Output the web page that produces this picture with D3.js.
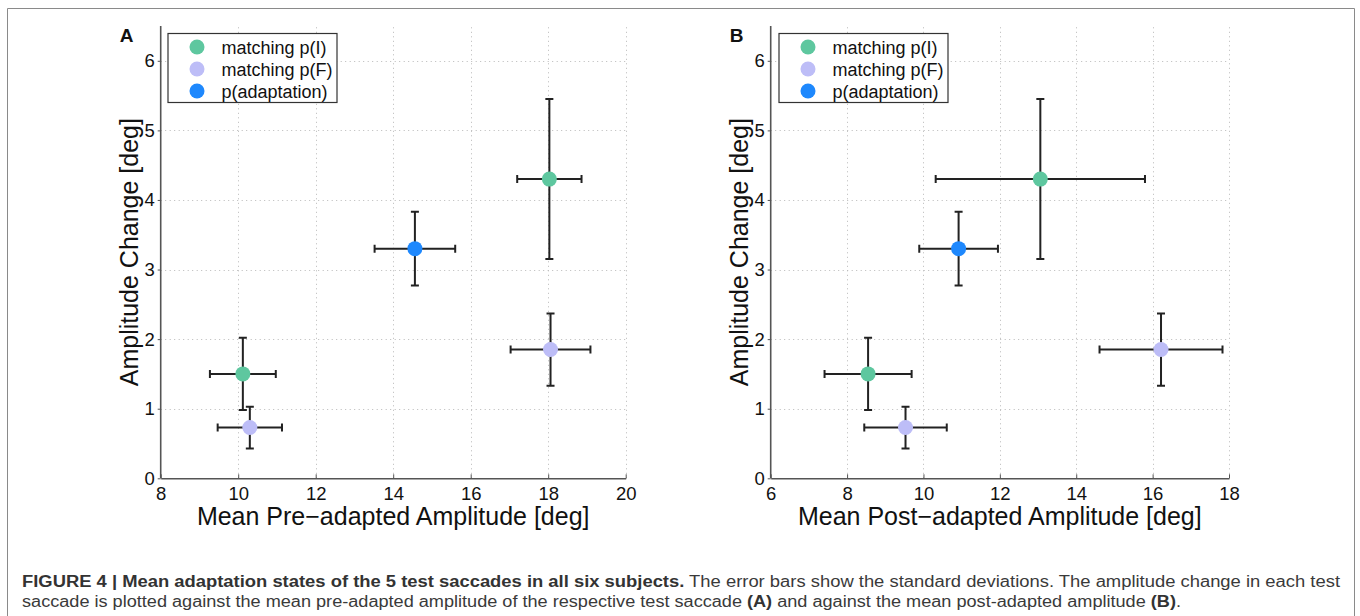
<!DOCTYPE html>
<html>
<head>
<meta charset="utf-8">
<script src="https://cdn.jsdelivr.net/npm/d3@7"></script>
<style>
  html, body { margin: 0; padding: 0; background: #fff; }
  svg { display: block; font-family: "Liberation Sans", Arial, Helvetica, sans-serif; }
</style>
</head>
<body>
<svg id="chart" width="1360" height="616"></svg>
<script>
// ---------------- data ----------------
const seriesNames = ["matching p(I)", "matching p(F)", "p(adaptation)"];
const seriesColors = ["#5ec79f", "#bdbdf7", "#1e88fd"];
// five test saccades
const saccadeGroup = [0, 1, 2, 0, 1];
const ampChange    = [1.50, 0.73, 3.30, 4.30, 1.85];
const ampChangeSD  = [0.52, 0.30, 0.53, 1.15, 0.52];
const preAmp       = [10.12, 10.30, 14.56, 18.03, 18.06];
const preAmpSD     = [0.85, 0.83, 1.04, 0.83, 1.03];
const postAmp      = [8.55, 9.53, 10.92, 13.06, 16.22];
const postAmpSD    = [1.14, 1.08, 1.03, 2.74, 1.61];
const xTicksA = [8, 10, 12, 14, 16, 18, 20];
const xTicksB = [6, 8, 10, 12, 14, 16, 18];
const yTicks  = [0, 1, 2, 3, 4, 5, 6];
const xTitleA = "Mean Pre\u2212adapted Amplitude [deg]";
const xTitleB = "Mean Post\u2212adapted Amplitude [deg]";
const yTitle  = "Amplitude Change [deg]";

// ---------------- drawing ----------------
const svg = d3.select("#chart");

// figure frame (top, left, right)
svg.append("path")
  .attr("d", "M7.5,616 V8.5 H1354.5 V616")
  .attr("fill", "none").attr("stroke", "#8a8a8a").attr("stroke-width", 1);

const y = d3.scaleLinear().domain([0, 6.5]).range([478.3, 26]);

function panel(cfg) {
  const x = d3.scaleLinear().domain(cfg.domain).range(cfg.range);
  const g = svg.append("g");
  const x0 = cfg.range[0], x1 = cfg.range[1];
  const yb = y(0), yt = y(6.5);

  // grid
  const grid = g.append("g").attr("stroke", "#b8b8b8").attr("stroke-width", 1)
    .attr("stroke-dasharray", "1,3.5");
  grid.selectAll("line.v").data(cfg.ticks.slice(1)).join("line")
    .attr("x1", d => Math.round(x(d)) + 0.5).attr("x2", d => Math.round(x(d)) + 0.5)
    .attr("y1", yb).attr("y2", yt);
  grid.selectAll("line.h").data(yTicks.slice(1)).join("line")
    .attr("x1", x0).attr("x2", x1)
    .attr("y1", d => Math.round(y(d)) + 0.5).attr("y2", d => Math.round(y(d)) + 0.5);

  // axes
  const xAxis = d3.axisBottom(x).tickValues(cfg.ticks).tickFormat(d3.format("d"))
    .tickSizeInner(-4).tickSizeOuter(0).tickPadding(9);
  const gx = g.append("g").attr("transform", `translate(0,${yb})`).call(xAxis);
  gx.select(".domain").attr("stroke", "#555").attr("stroke-width", 1.6);
  gx.selectAll(".tick line").attr("stroke", "#555");
  gx.selectAll("text").attr("font-size", 18.5).attr("fill", "#111").attr("font-family", null);

  const yAxis = d3.axisLeft(y).tickValues(yTicks).tickFormat(d3.format("d"))
    .tickSizeInner(3).tickSizeOuter(0).tickPadding(3);
  const gy = g.append("g").attr("transform", `translate(${x0},0)`).call(yAxis);
  gy.select(".domain").attr("stroke", "#555").attr("stroke-width", 1.6)
    .attr("d", `M0,${yb}V${yt}`);
  gy.selectAll(".tick line").attr("stroke", "#555");
  gy.selectAll("text").attr("font-size", 18.5).attr("fill", "#111").attr("font-family", null);

  // error bars
  const idx = d3.range(ampChange.length);
  const eb = g.append("g").attr("stroke", "#222").attr("stroke-width", 2).attr("fill", "none");
  const cap = 4;
  idx.forEach(i => {
    const cx = x(cfg.xs[i]), cy = y(ampChange[i]);
    const xl = x(cfg.xs[i] - cfg.sds[i]), xr = x(cfg.xs[i] + cfg.sds[i]);
    const yu = y(ampChange[i] + ampChangeSD[i]), yd = y(ampChange[i] - ampChangeSD[i]);
    eb.append("path").attr("d",
      `M${xl},${cy}H${xr}M${xl},${cy - cap}V${cy + cap}M${xr},${cy - cap}V${cy + cap}` +
      `M${cx},${yu}V${yd}M${cx - cap},${yu}H${cx + cap}M${cx - cap},${yd}H${cx + cap}`);
  });

  // markers
  g.append("g").selectAll("circle").data(idx).join("circle")
    .attr("cx", i => x(cfg.xs[i])).attr("cy", i => y(ampChange[i])).attr("r", 7.5)
    .attr("fill", i => seriesColors[saccadeGroup[i]]);

  // legend
  const lg = g.append("g").attr("transform", `translate(${cfg.legendX},33.5)`);
  lg.append("rect").attr("x", 0).attr("y", 0).attr("width", 169).attr("height", 69)
    .attr("fill", "#fff").attr("stroke", "#333").attr("stroke-width", 1.2);
  seriesNames.forEach((nm, k) => {
    const ry = 13.5 + k * 22;
    lg.append("circle").attr("cx", 29).attr("cy", ry).attr("r", 7.5).attr("fill", seriesColors[k]);
    lg.append("text").attr("x", 53.5).attr("y", ry + 6.5).attr("font-size", 18).attr("fill", "#111").text(nm);
  });

  // titles
  g.append("text").attr("x", (x0 + x1) / 2).attr("y", 525)
    .attr("text-anchor", "middle").attr("font-size", 25).attr("fill", "#111").text(cfg.xTitle);
  g.append("text").attr("transform", `translate(${x0 - 23},${(yb + yt) / 2}) rotate(-90)`)
    .attr("text-anchor", "middle").attr("font-size", 25).attr("fill", "#111").text(yTitle);

  // panel letter
  g.append("text").attr("x", x0 - 41).attr("y", 42).attr("font-size", 19)
    .attr("font-weight", "bold").attr("fill", "#111").text(cfg.letter);
}

panel({ domain: [8, 20], range: [160.7, 625.7], ticks: xTicksA, xs: preAmp, sds: preAmpSD,
        legendX: 168, xTitle: xTitleA, letter: "A" });
panel({ domain: [6, 18], range: [770.7, 1229], ticks: xTicksB, xs: postAmp, sds: postAmpSD,
        legendX: 779, xTitle: xTitleB, letter: "B" });

// caption
const cap1 = svg.append("text").attr("x", 22).attr("y", 587).attr("font-size", 16).attr("fill", "#3a3a3a");
cap1.append("tspan").attr("font-weight", "bold").attr("fill", "#333")
  .text("FIGURE 4 | Mean adaptation states of the 5 test saccades in all six subjects.");
cap1.append("tspan").text(" The error bars show the standard deviations. The amplitude change in each test");
const cap2 = svg.append("text").attr("x", 22).attr("y", 607).attr("font-size", 16).attr("fill", "#3a3a3a");
cap2.append("tspan").text("saccade is plotted against the mean pre-adapted amplitude of the respective test saccade ");
cap2.append("tspan").attr("font-weight", "bold").attr("fill", "#333").text("(A)");
cap2.append("tspan").text(" and against the mean post-adapted amplitude ");
cap2.append("tspan").attr("font-weight", "bold").attr("fill", "#333").text("(B)");
cap2.append("tspan").text(".");
[[cap1, 1318], [cap2, 1159]].forEach(([t, w]) => {
  const cur = t.node().getComputedTextLength();
  if (Math.abs(cur - w) > 2) t.attr("textLength", w).attr("lengthAdjust", "spacingAndGlyphs");
});
</script>
</body>
</html>
